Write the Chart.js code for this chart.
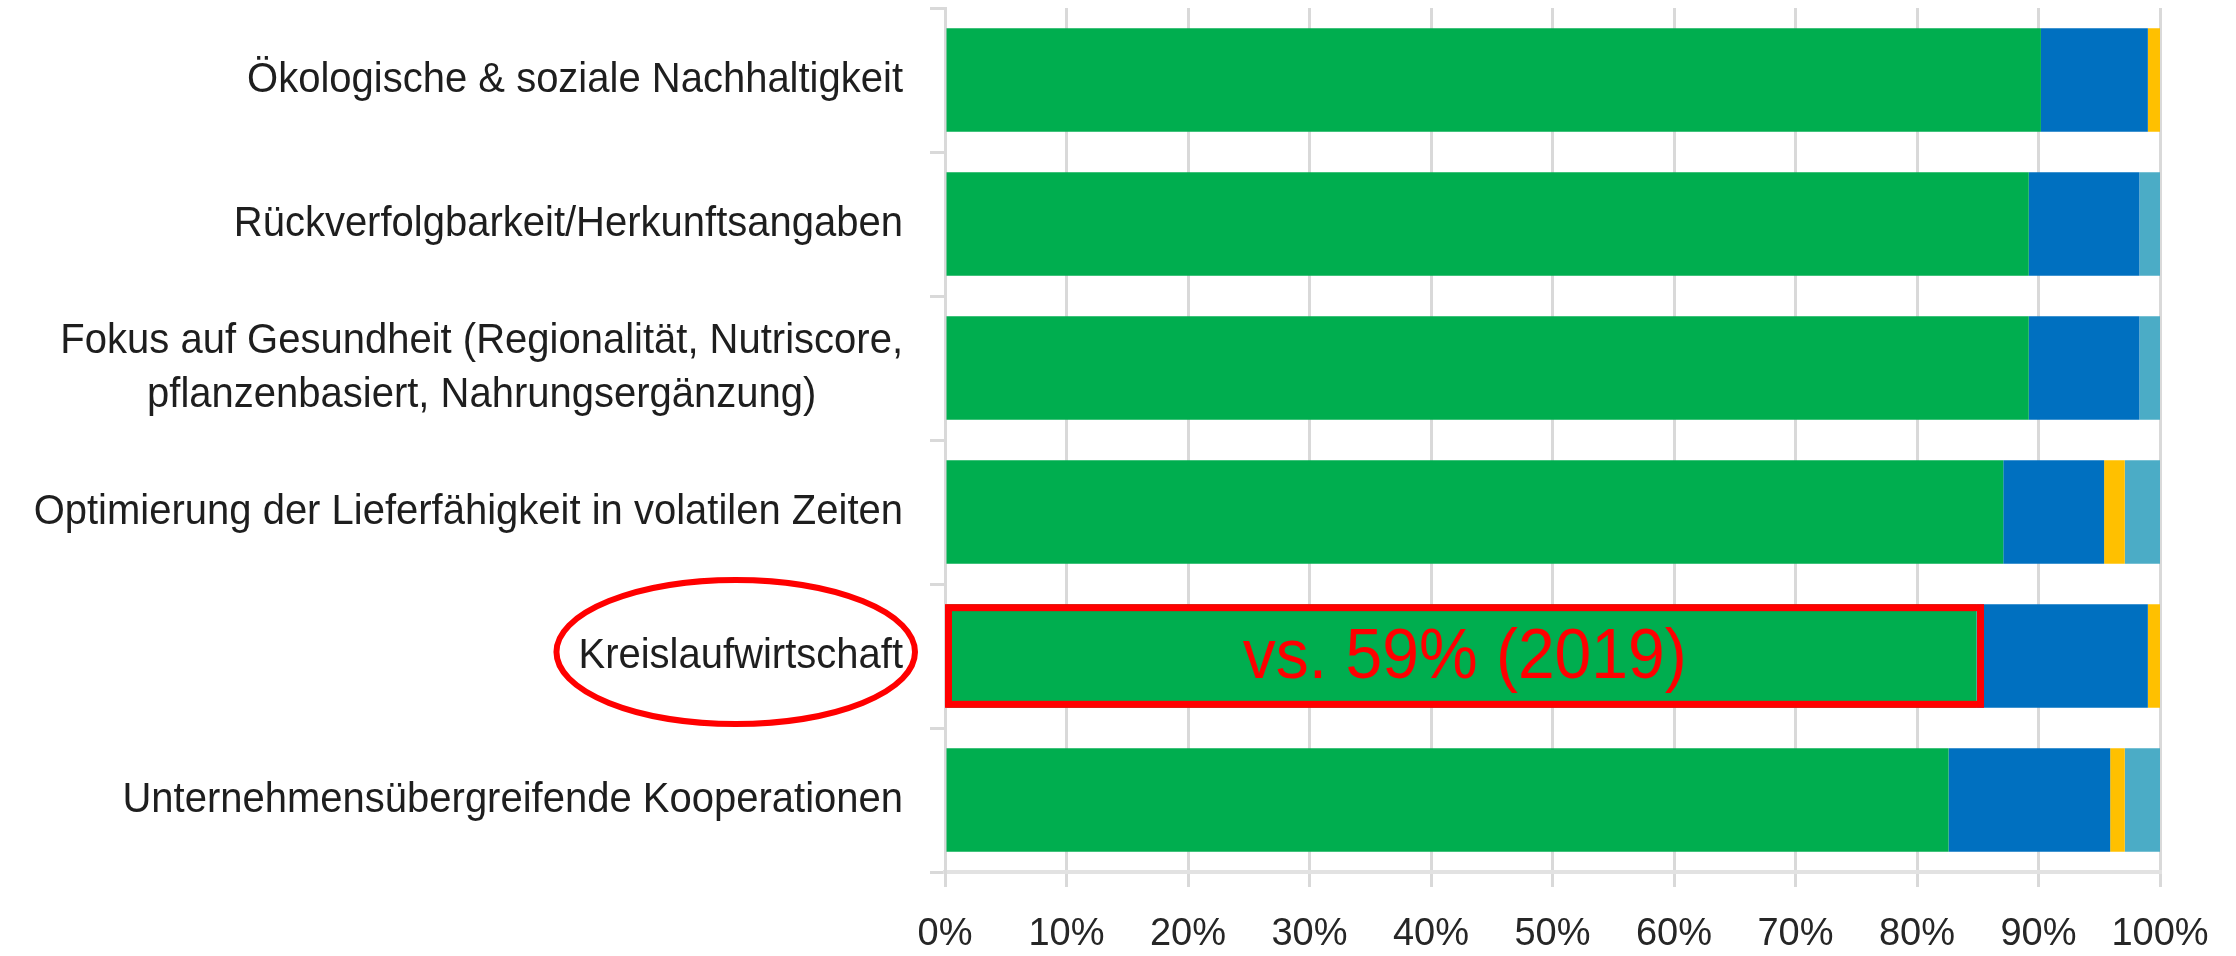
<!DOCTYPE html>
<html>
<head>
<meta charset="utf-8">
<script src="https://cdn.jsdelivr.net/npm/chart.js@4.4.0/dist/chart.umd.min.js"></script>
<style>
  html, body { margin: 0; padding: 0; background: #fff; }
  #wrap { width: 2236px; height: 956px; }
</style>
</head>
<body>
<div id="wrap"><canvas id="trends"></canvas></div>
<script>
// categories, top to bottom
const categories = [
    'Ökologische & soziale Nachhaltigkeit',
    'Rückverfolgbarkeit/Herkunftsangaben',
    ['Fokus auf Gesundheit (Regionalität, Nutriscore,', 'pflanzenbasiert, Nahrungsergänzung)'],
    'Optimierung der Lieferfähigkeit in volatilen Zeiten',
    'Kreislaufwirtschaft',
    'Unternehmensübergreifende Kooperationen'
];

// shares in percent
const greenValues = [90.2, 89.2, 89.2, 87.1, 84.9, 82.6];
const blueValues = [8.8, 9.1, 9.1, 8.3, 14.1, 13.3];
const yellowValues = [1.0, 0, 0, 1.7, 1.0, 1.2];
const lightBlueValues = [0, 1.7, 1.7, 2.9, 0, 2.9];

const xTicks = [0, 10, 20, 30, 40, 50, 60, 70, 80, 90, 100];

// the highlighted category and its note
const highlightIndex = 4;
const highlightNote = 'vs. 59% (2019)';

const labelFont = '40px "Liberation Sans", Arial, sans-serif';
const gridColor = '#d9d9d9';

// draws the category labels (multi-line labels centred as a block)
// plus the red ellipse, box and note on the highlighted category
const overlayPlugin = {
    id: 'overlay',
    afterDraw(chart) {
        let ctx = chart.ctx;
        let yScale = chart.scales.y;
        let xScale = chart.scales.x;
        let rightEdge = yScale.right - 42;

        ctx.save();
        ctx.font = labelFont;
        ctx.fillStyle = '#1e1e1e';
        ctx.textBaseline = 'middle';
        ctx.textAlign = 'center';

        let labelBoxes = [];
        categories.forEach(function(label, i) {
            let lines = Array.isArray(label) ? label : [label];
            let widths = lines.map(l => ctx.measureText(l).width);
            let blockWidth = Math.max.apply(null, widths);
            let cx = rightEdge - blockWidth / 2;
            let cy = yScale.getPixelForValue(i);
            let lineGap = 54;
            lines.forEach(function(line, j) {
                let y = cy + (j - (lines.length - 1) / 2) * lineGap;
                // slight vertical stretch, the source text is tall and narrow
                ctx.save();
                ctx.translate(cx, y);
                ctx.scale(1, 1.06);
                ctx.fillText(line, 0, 0);
                ctx.restore();
            });
            labelBoxes.push({ cx: cx, cy: cy, w: blockWidth });
        });

        // ellipse around the highlighted label
        let box = labelBoxes[highlightIndex];
        ctx.strokeStyle = '#ff0000';
        ctx.lineWidth = 6;
        ctx.beginPath();
        ctx.ellipse(box.cx - 5, box.cy - 4, box.w / 2 + 17, 72, 0, 0, Math.PI * 2);
        ctx.stroke();

        // box around the green part of the highlighted bar
        let bar = chart.getDatasetMeta(0).data[highlightIndex];
        let x0 = xScale.getPixelForValue(0);
        let top = bar.y - bar.height / 2;
        let bottom = bar.y + bar.height / 2;
        ctx.lineWidth = 7;
        ctx.strokeRect(x0 + 3.5, top + 3.5, bar.x + 4 - (x0 + 3.5), bottom - 7 - top);

        ctx.fillStyle = '#ff0000';
        ctx.font = '66px "Liberation Sans", Arial, sans-serif';
        ctx.save();
        ctx.translate((x0 + bar.x + 8) / 2, bar.y + 2);
        ctx.scale(1, 1.08);
        ctx.fillText(highlightNote, 0, 0);
        ctx.restore();
        ctx.restore();
    }
};

function makeDataset(values, color) {
    return {
        data: values,
        backgroundColor: color,
        borderWidth: 0,
        categoryPercentage: 1,
        barPercentage: 0.72
    };
}

function renderChart() {
    let ctx = document.getElementById('trends');

    new Chart(ctx, {
        type: 'bar',
        data: {
            labels: categories,
            datasets: [
                makeDataset(greenValues, '#00ae4f'),
                makeDataset(blueValues, '#0070c0'),
                makeDataset(yellowValues, '#ffc000'),
                makeDataset(lightBlueValues, '#4bacc6')
            ]
        },
        options: {
            indexAxis: 'y',
            responsive: true,
            maintainAspectRatio: false,
            animation: false,
            layout: {
                padding: { top: 8, right: 76, bottom: 0, left: 0 }
            },
            plugins: {
                legend: { display: false },
                tooltip: { enabled: false }
            },
            scales: {
                x: {
                    stacked: true,
                    min: 0,
                    max: 100,
                    afterBuildTicks: function(scale) {
                        scale.ticks = xTicks.map(v => ({ value: v }));
                    },
                    afterFit: function(scale) { scale.height = 84; },
                    grid: {
                        color: gridColor,
                        lineWidth: 3,
                        tickLength: 15
                    },
                    border: { color: '#e2e2e2', width: 4 },
                    ticks: {
                        padding: 25,
                        color: '#262626',
                        font: { family: '"Liberation Sans", Arial, sans-serif', size: 38 },
                        maxRotation: 0,
                        callback: function(value) { return value + '%'; }
                    }
                },
                y: {
                    stacked: true,
                    afterFit: function(scale) { scale.width = 945; },
                    grid: {
                        offset: true,
                        drawOnChartArea: false,
                        color: gridColor,
                        lineWidth: 3,
                        tickLength: 15
                    },
                    border: { color: gridColor, width: 3 },
                    ticks: { display: false }
                }
            }
        },
        plugins: [overlayPlugin]
    });
}

renderChart();
</script>
</body>
</html>
